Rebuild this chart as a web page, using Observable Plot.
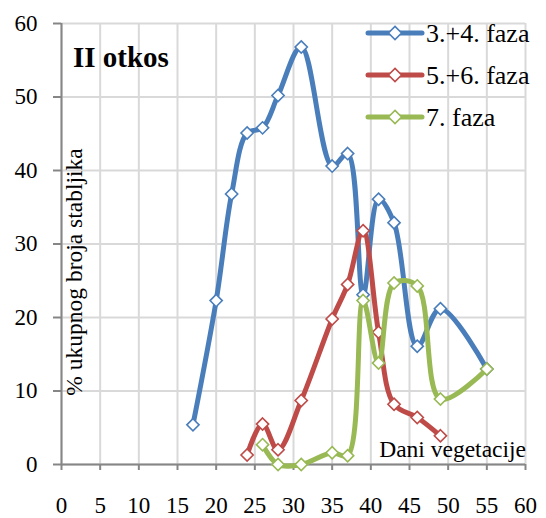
<!DOCTYPE html>
<html><head><meta charset="utf-8">
<script src="https://cdn.jsdelivr.net/npm/d3@7"></script>
<script src="https://cdn.jsdelivr.net/npm/@observablehq/plot@0.6"></script>
<style>
body{margin:0;background:#fff;}
#wrap{position:relative;width:546px;height:518px;font-family:"Liberation Serif","Times New Roman",serif;}
#wrap svg.overlay{position:absolute;left:0;top:0;pointer-events:none;}
</style></head><body><div id="wrap"></div>
<script>
const seriesNames = ["3.+4. faza", "5.+6. faza", "7. faza"];
const colors = ["#4A7EBB", "#BE4B48", "#98B954"];
const days34 = [17, 20, 22, 24, 26, 28, 31, 35, 37, 39, 41, 43, 46, 49, 55];
const faza34 = [5.4, 22.3, 36.8, 45.1, 45.8, 50.2, 56.8, 40.6, 42.3, 23.1, 36.1, 32.9, 16.1, 21.2, 13.0];
const days56 = [24, 26, 28, 31, 35, 37, 39, 41, 43, 46, 49];
const faza56 = [1.3, 5.5, 2.0, 8.7, 19.8, 24.5, 31.8, 18.0, 8.2, 6.4, 3.9];
const days7 = [26, 28, 31, 35, 37, 39, 41, 43, 46, 49, 55];
const faza7 = [2.7, 0, 0, 1.6, 1.2, 22.3, 13.8, 24.7, 24.3, 8.9, 13.0];
const xTicks = [0, 5, 10, 15, 20, 25, 30, 35, 40, 45, 50, 55, 60];
const yTicks = [0, 10, 20, 30, 40, 50, 60];
const titleText = "II otkos";
const yLabel = "% ukupnog broja stabljika";
const xLabel = "Dani vegetacije";

const seriesData = [
  days34.map((d, i) => ({series: seriesNames[0], day: d, value: faza34[i]})),
  days56.map((d, i) => ({series: seriesNames[1], day: d, value: faza56[i]})),
  days7.map((d, i) => ({series: seriesNames[2], day: d, value: faza7[i]}))
];

const seriesMarks = seriesData.flatMap(s => [
  Plot.line(s, {x: "day", y: "value", stroke: "series", strokeWidth: 5, curve: "catmull-rom", strokeLinecap: "round", strokeLinejoin: "round"}),
  Plot.dot(s, {x: "day", y: "value", stroke: "series", fill: "white", symbol: "diamond2", r: 5.5, strokeWidth: 1.6})
]);

const chart = Plot.plot({
  width: 546, height: 518,
  marginLeft: 61, marginRight: 21, marginTop: 23, marginBottom: 54,
  style: {fontFamily: "'Liberation Serif','Times New Roman',serif", fontSize: "23px", color: "#000", background: "transparent", overflow: "visible"},
  x: {domain: [0, 60], ticks: xTicks, label: null},
  y: {domain: [0, 60], ticks: yTicks, label: null},
  color: {domain: seriesNames, range: colors},
  marks: [
    Plot.gridX(xTicks, {stroke: "#d9d9d9", strokeOpacity: 1, strokeWidth: 2}),
    Plot.gridY(yTicks, {stroke: "#d9d9d9", strokeOpacity: 1, strokeWidth: 2}),
    Plot.axisX({ticks: xTicks, tickSize: 6, tickPadding: 26, stroke: "#868686", strokeWidth: 2, strokeOpacity: 1, label: null, fill: "#000"}),
    Plot.axisY({ticks: yTicks, tickSize: 8, tickPadding: 16, stroke: "#868686", strokeWidth: 2, strokeOpacity: 1, label: null, fill: "#000"}),
    Plot.ruleY([0], {stroke: "#868686", strokeWidth: 2}),
    Plot.ruleX([0], {stroke: "#868686", strokeWidth: 2}),
    ...seriesMarks
  ]
});
const wrap = document.getElementById("wrap");
wrap.appendChild(chart);

// overlay for title, axis annotations and legend
const ov = d3.select(wrap).append("svg").attr("class", "overlay").attr("width", 546).attr("height", 518)
  .style("font-family", "'Liberation Serif','Times New Roman',serif");
ov.append("text").attr("x", 73).attr("y", 67).attr("font-size", 29).attr("font-weight", "bold").text(titleText);
ov.append("text").attr("transform", "translate(82,272) rotate(-90)").attr("text-anchor", "middle").attr("font-size", 23.5).text(yLabel);
ov.append("text").attr("x", 526).attr("y", 457).attr("text-anchor", "end").attr("font-size", 23.5).text(xLabel);
const rowsY = [33, 75, 117];
seriesNames.forEach((name, i) => {
  const g = ov.append("g").attr("transform", `translate(0,${rowsY[i]})`);
  g.append("line").attr("x1", 368).attr("x2", 422).attr("stroke", colors[i]).attr("stroke-width", 5).attr("stroke-linecap", "round");
  g.append("path").attr("d", d3.symbol(d3.symbolDiamond2, 110)()).attr("transform", "translate(395,0)")
    .attr("fill", "white").attr("stroke", colors[i]).attr("stroke-width", 1.6);
  g.append("text").attr("x", 426).attr("y", 9).attr("font-size", 26).text(name);
});
</script></body></html>
